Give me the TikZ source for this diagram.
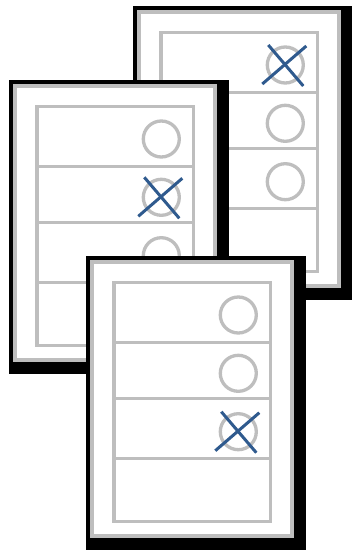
\documentclass[tikz,border=0pt]{standalone}
\usepackage{tikz}
\definecolor{framegray}{RGB}{190,190,190}
\definecolor{crossblue}{RGB}{47,90,142}
\tikzset{
  shadowbox/.style={fill=black, draw=none},
  cardbox/.style={fill=white, draw=framegray, line width=4pt},
  innerbox/.style={draw=framegray, line width=3.3pt},
  rowline/.style={draw=framegray, line width=3.3pt},
  markcircle/.style={draw=framegray, line width=3.3pt},
  crossline/.style={draw=crossblue, line width=3pt},
}
\newcommand{\ballotcard}[4]{%
  % #1,#2: top-left of card; #3: crossed row (1..3); #4: name
  \begin{scope}[shift={(#1,#2)}]
    \fill[shadowbox] (-4,-4) rectangle (216,290);
    \draw[cardbox] (2,2) rectangle (202,276);
    \coordinate (#4-tl) at (24,22.5);
    \coordinate (#4-br) at (180.5,261.5);
    \draw[innerbox] (#4-tl) rectangle (#4-br);
    \foreach \yy [count=\k] in {82.3,138.7,198.7}{
      \coordinate (#4-l\k) at (24,\yy);
      \coordinate (#4-r\k) at (180.5,\yy);
      \draw[rowline] (#4-l\k) -- (#4-r\k);
    }
    \foreach \cy [count=\k] in {55,113.3,171.7}{
      \coordinate (#4-c\k) at (148.3,\cy);
      \draw[markcircle] (#4-c\k) circle (18);
    }
    \draw[crossline] ([shift={(-23,19)}]#4-c#3) -- ([shift={(21,-19)}]#4-c#3);
    \draw[crossline] ([shift={(-17,-20)}]#4-c#3) -- ([shift={(18,21)}]#4-c#3);
  \end{scope}
}
\begin{document}
\begin{tikzpicture}[x=1pt,y=-1pt]
  \fill[white] (0,0) rectangle (351,551);
  \useasboundingbox (0,0) rectangle (351,551);
  \ballotcard{137}{10}{1}{top}
  \ballotcard{13}{84}{2}{mid}
  \ballotcard{90}{260}{3}{bot}
\end{tikzpicture}
\end{document}
